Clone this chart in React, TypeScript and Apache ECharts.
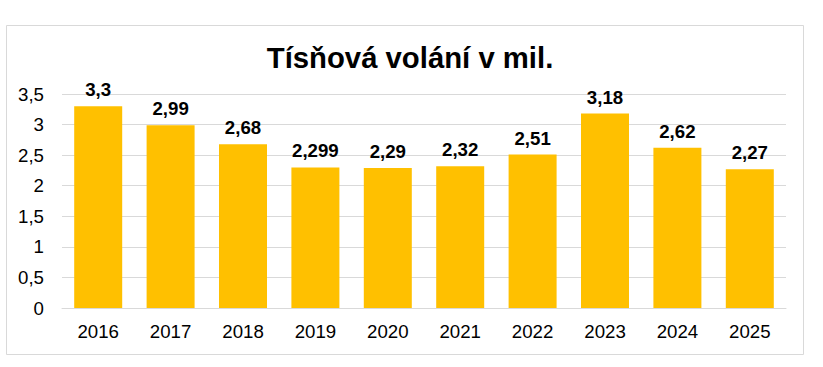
import React, { useEffect, useRef } from "react";
import * as echarts from "echarts";

const categories = ["2016", "2017", "2018", "2019", "2020", "2021", "2022", "2023", "2024", "2025"];
const values = [3.3, 2.99, 2.68, 2.299, 2.29, 2.32, 2.51, 3.18, 2.62, 2.27];
const titleText = "Tísňová volání v mil.";

const fmt = (v: number) => String(v).replace(".", ",");

export default function App() {
  const ref = useRef<HTMLDivElement>(null);
  useEffect(() => {
    document.body.style.margin = "0";
    const chart = echarts.init(ref.current!, null, { renderer: "svg" });
    chart.setOption({
      animation: false,
      backgroundColor: "#ffffff",
      title: {
        text: titleText,
        left: 405,
        textAlign: "center",
        top: 38,
        textStyle: { fontFamily: "Liberation Sans, Arial", fontSize: 29.3, fontWeight: "bold", color: "#000" },
      },
      graphic: [
        {
          type: "rect",
          shape: { x: 6.5, y: 25.5, width: 797, height: 329 },
          style: { fill: "none", stroke: "#d9d9d9", lineWidth: 1 },
          z: -1,
        },
      ],
      grid: { left: 62, right: 37, top: 94, bottom: 59, containLabel: false },
      xAxis: {
        type: "category",
        data: categories,
        axisTick: { show: false },
        axisLine: { show: true, lineStyle: { color: "#d9d9d9", width: 1 } },
        axisLabel: { fontFamily: "Liberation Sans, Arial", fontSize: 18.67, color: "#000", margin: 14 },
      },
      yAxis: {
        type: "value",
        min: 0,
        max: 3.5,
        interval: 0.5,
        axisLine: { show: false },
        axisTick: { show: false },
        splitLine: { lineStyle: { color: "#d9d9d9", width: 1 } },
        axisLabel: {
          fontFamily: "Liberation Sans, Arial",
          fontSize: 18.67,
          color: "#000",
          margin: 18,
          formatter: (v: number) => fmt(v),
        },
      },
      series: [
        {
          type: "bar",
          data: values,
          barWidth: 48,
          itemStyle: { color: "#FFC000" },
          label: {
            show: true,
            position: "top",
            distance: 7,
            fontFamily: "Liberation Sans, Arial",
            fontSize: 18.67,
            fontWeight: "bold",
            color: "#000",
            formatter: (p: any) => fmt(p.value),
          },
        },
      ],
    });
    return () => chart.dispose();
  }, []);
  return <div ref={ref} style={{ position: "absolute", left: 0, top: 0, width: 823, height: 367 }} />;
}
